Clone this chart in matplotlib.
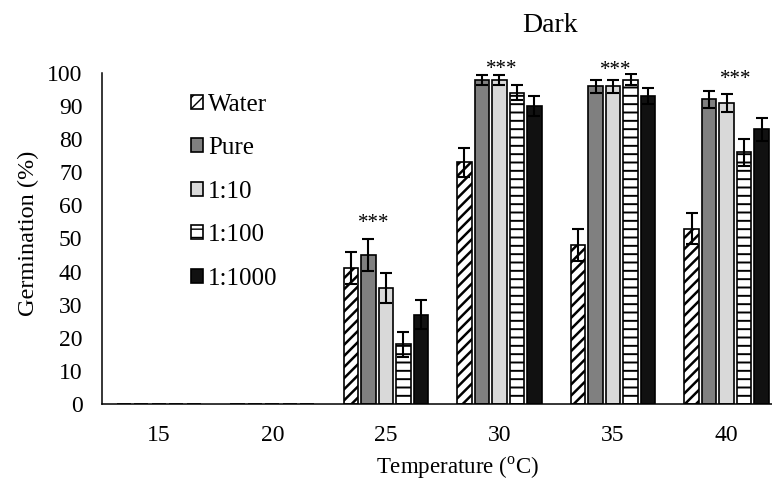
import matplotlib

matplotlib.use("Agg")
import matplotlib.pyplot as plt
import numpy as np

temps = ["15", "20", "25", "30", "35", "40"]
series = ["Water", "Pure", "1:10", "1:100", "1:1000"]

water = [0, 0, 41, 73, 48, 53]
pure = [0, 0, 45, 98, 96, 92]
r10 = [0, 0, 35, 98, 96, 91]
r100 = [0, 0, 18, 94, 98, 76]
r1000 = [0, 0, 27, 90, 93, 83]

water_err = [0, 0, 4.8, 4.4, 4.8, 4.8]
pure_err = [0, 0, 4.9, 1.5, 2.0, 2.7]
r10_err = [0, 0, 4.6, 1.5, 2.0, 2.7]
r100_err = [0, 0, 3.8, 2.3, 1.6, 4.0]
r1000_err = [0, 0, 4.3, 3.0, 2.4, 3.5]

# significance marks: (group index, offset, baseline height)
stars = [(2, -0.11, 53.2), (3, 0.02, 99.7), (4, 0.02, 99.4), (5, 0.08, 96.7)]

plt.rcParams["font.family"] = ["Liberation Serif", "DejaVu Serif"]
plt.rcParams["mathtext.fontset"] = "custom"
plt.rcParams["mathtext.rm"] = "Liberation Serif"

faces = ["white", "#808080", "#d9d9d9", "white", "#111111"]
hatches = ["///", None, None, "--", None]
hatch_lw = [1.8, 1.0, 1.0, 1.4, 1.0]
values = [water, pure, r10, r100, r1000]
errors = [water_err, pure_err, r10_err, r100_err, r1000_err]

fig = plt.figure(figsize=(7.72, 4.82), dpi=100)
ax = fig.add_axes([102 / 772, 78 / 482, 670 / 772, 331 / 482])

x = np.arange(len(temps))
pitch = 0.154
width = 0.126
for i, (name, vals, errs) in enumerate(zip(series, values, errors)):
    plt.rcParams["hatch.linewidth"] = hatch_lw[i]
    pos = x + (i - 2) * pitch
    ax.bar(pos, vals, width=width, color=faces[i], edgecolor="black",
           linewidth=1.2, hatch=hatches[i], label=name, zorder=2)
    mask = np.array(errs) > 0
    ax.errorbar(pos[mask], np.array(vals)[mask], yerr=np.array(errs)[mask],
                fmt="none", ecolor="black", elinewidth=1.5, capsize=4.3,
                capthick=1.5, zorder=3)

for g, off, h in stars:
    ax.text(g + off, h, "***", ha="center", va="baseline", fontsize=15, clip_on=False)

ax.set_xlim(-0.5, 5.4)
ax.set_ylim(0, 100)
ax.set_yticks(range(0, 101, 10))
ax.set_xticks(x)
ax.set_xticklabels(temps)
ax.tick_params(length=0, labelsize=17)
ax.tick_params(axis="x", pad=15)
ax.tick_params(axis="y", pad=14)
for s in ["top", "right"]:
    ax.spines[s].set_visible(False)
ax.spines["left"].set_linewidth(1.1)
ax.spines["bottom"].set_linewidth(1.1)

ax.set_ylabel("Germination (%)", fontsize=17.5)
ax.yaxis.set_label_coords(-0.094, 0.515)
ax.set_xlabel("Temperature ($^{\\rm o}$C)", fontsize=16.5)
ax.xaxis.set_label_coords(0.53, -0.152)
fig.text(550 / 772, 1 - 26 / 482, "Dark", ha="center", va="center", fontsize=20)

leg = ax.legend(loc="upper left", bbox_to_anchor=(0.133, 0.938), frameon=False,
                fontsize=18, handlelength=0.48, handleheight=0.48,
                handletextpad=0.2, labelspacing=0.86, borderaxespad=0,
                borderpad=0)

fig.savefig("out.png", dpi=100)
